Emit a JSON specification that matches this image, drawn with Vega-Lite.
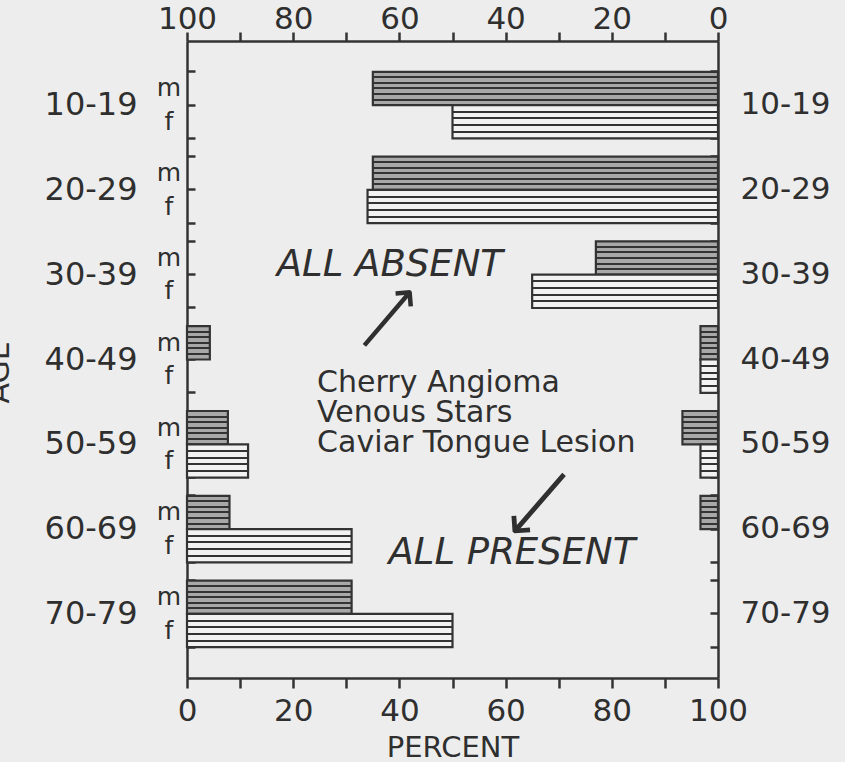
{
  "$schema": "https://vega.github.io/schema/vega-lite/v6.json",
  "width": 531,
  "height": 637,
  "autosize": "none",
  "padding": {"left": 187, "top": 41, "right": 127, "bottom": 84},
  "background": "#ededed",
  "config": {
    "view": {"stroke": null},
    "font": "DejaVu Sans",
    "axis": {
      "labelFont": "DejaVu Sans",
      "titleFont": "DejaVu Sans",
      "titleFontWeight": "normal",
      "domainColor": "#333333",
      "tickColor": "#333333",
      "labelColor": "#2f2f2f",
      "titleColor": "#2f2f2f",
      "domainWidth": 2.5,
      "tickWidth": 2.5,
      "grid": false
    }
  },
  "datasets": {
    "bars": [
      {"age": "10-19", "sex": "m", "absent": 65, "present": 0},
      {"age": "10-19", "sex": "f", "absent": 50, "present": 0},
      {"age": "20-29", "sex": "m", "absent": 65, "present": 0},
      {"age": "20-29", "sex": "f", "absent": 66, "present": 0},
      {"age": "30-39", "sex": "m", "absent": 23, "present": 0},
      {"age": "30-39", "sex": "f", "absent": 35, "present": 0},
      {"age": "40-49", "sex": "m", "absent": 3.3, "present": 4.3},
      {"age": "40-49", "sex": "f", "absent": 3.3, "present": 0},
      {"age": "50-59", "sex": "m", "absent": 6.7, "present": 7.7},
      {"age": "50-59", "sex": "f", "absent": 3.3, "present": 11.5},
      {"age": "60-69", "sex": "m", "absent": 3.3, "present": 8},
      {"age": "60-69", "sex": "f", "absent": 0, "present": 31},
      {"age": "70-79", "sex": "m", "absent": 0, "present": 31},
      {"age": "70-79", "sex": "f", "absent": 0, "present": 50}
    ],
    "notes": [
      {"note": "ALL ABSENT", "percent": 38.2, "age": "30-39", "sex": "m", "kind": "big"},
      {"note": "ALL PRESENT", "percent": 61.2, "age": "60-69", "sex": "f", "kind": "big"},
      {"note": "Cherry Angioma\nVenous Stars\nCaviar Tongue Lesion", "percent": 24.5, "age": "40-49", "sex": "m", "kind": "list"},
      {"note": "⟶", "percent": 37.9, "age": "30-39", "sex": "m", "kind": "arrow1"},
      {"note": "⟶", "percent": 66.1, "age": "60-69", "sex": "m", "kind": "arrow2"}
    ]
  },
  "resolve": {"scale": {"x": "independent"}, "axis": {"x": "independent", "y": "independent"}},
  "layer": [
    {
      "data": {"name": "bars"},
      "transform": [{"filter": "datum.sex === 'm' && datum.present > 0"}],
      "mark": {"type": "bar", "stroke": "#333333", "strokeWidth": 2.2,
        "fill": {"gradient": "linear", "x1": 0, "y1": 0, "x2": 0, "y2": 1, "stops": [
          {"offset": 0, "color": "#a8a8a8"}, {"offset": 0.137, "color": "#a8a8a8"}, {"offset": 0.137, "color": "#333333"}, {"offset": 0.197, "color": "#333333"},
          {"offset": 0.197, "color": "#a8a8a8"}, {"offset": 0.303, "color": "#a8a8a8"}, {"offset": 0.303, "color": "#333333"}, {"offset": 0.363, "color": "#333333"},
          {"offset": 0.363, "color": "#a8a8a8"}, {"offset": 0.47, "color": "#a8a8a8"}, {"offset": 0.47, "color": "#333333"}, {"offset": 0.53, "color": "#333333"},
          {"offset": 0.53, "color": "#a8a8a8"}, {"offset": 0.637, "color": "#a8a8a8"}, {"offset": 0.637, "color": "#333333"}, {"offset": 0.697, "color": "#333333"},
          {"offset": 0.697, "color": "#a8a8a8"}, {"offset": 0.803, "color": "#a8a8a8"}, {"offset": 0.803, "color": "#333333"}, {"offset": 0.863, "color": "#333333"},
          {"offset": 0.863, "color": "#a8a8a8"}, {"offset": 1, "color": "#a8a8a8"}]}},
      "encoding": {
        "y": {"field": "age", "type": "nominal",
          "scale": {"domain": ["10-19", "20-29", "30-39", "40-49", "50-59", "60-69", "70-79"], "paddingInner": 0.215, "paddingOuter": 0.363},
          "axis": {"orient": "left", "bandPosition": 0.5, "tickSize": -8, "labelPadding": 58, "labelFontSize": 32,
            "title": "AGE", "titleFontSize": 30, "titleAngle": 270, "titleX": -179, "titleY": 331, "titleAlign": "center", "titleBaseline": "alphabetic"}},
        "yOffset": {"field": "sex", "type": "nominal", "scale": {"domain": ["m", "f"]}},
        "x": {"field": "present", "type": "quantitative", "scale": {"domain": [0, 100]},
          "axis": {"orient": "bottom", "values": [0, 10, 20, 30, 40, 50, 60, 70, 80, 90, 100],
            "labelExpr": "datum.value % 20 === 0 ? datum.label : ''", "tickSize": 10, "labelPadding": 8,
            "labelFontSize": 31, "labelFlush": false, "labelOverlap": false,
            "title": "PERCENT", "titleFontSize": 29, "titlePadding": 7}}
      }
    },
    {
      "data": {"name": "bars"},
      "transform": [{"filter": "datum.sex === 'f' && datum.present > 0"}],
      "mark": {"type": "bar", "stroke": "#333333", "strokeWidth": 2.2,
        "fill": {"gradient": "linear", "x1": 0, "y1": 0, "x2": 0, "y2": 1, "stops": [
          {"offset": 0, "color": "#f2f2f2"}, {"offset": 0.17, "color": "#f2f2f2"}, {"offset": 0.17, "color": "#333333"}, {"offset": 0.23, "color": "#333333"},
          {"offset": 0.23, "color": "#f2f2f2"}, {"offset": 0.37, "color": "#f2f2f2"}, {"offset": 0.37, "color": "#333333"}, {"offset": 0.43, "color": "#333333"},
          {"offset": 0.43, "color": "#f2f2f2"}, {"offset": 0.57, "color": "#f2f2f2"}, {"offset": 0.57, "color": "#333333"}, {"offset": 0.63, "color": "#333333"},
          {"offset": 0.63, "color": "#f2f2f2"}, {"offset": 0.77, "color": "#f2f2f2"}, {"offset": 0.77, "color": "#333333"}, {"offset": 0.83, "color": "#333333"},
          {"offset": 0.83, "color": "#f2f2f2"}, {"offset": 1, "color": "#f2f2f2"}]}},
      "encoding": {
        "y": {"field": "age", "type": "nominal",
          "scale": {"domain": ["10-19", "20-29", "30-39", "40-49", "50-59", "60-69", "70-79"], "paddingInner": 0.215, "paddingOuter": 0.363},
          "axis": {"orient": "left", "bandPosition": 0, "tickSize": -8, "labels": false, "domain": false, "title": null}},
        "yOffset": {"field": "sex", "type": "nominal", "scale": {"domain": ["m", "f"]}},
        "x": {"field": "present", "type": "quantitative", "scale": {"domain": [0, 100]}, "axis": null}
      }
    },
    {
      "data": {"name": "bars"},
      "transform": [{"filter": "datum.sex === 'm' && datum.absent > 0"}],
      "mark": {"type": "bar", "stroke": "#333333", "strokeWidth": 2.2,
        "fill": {"gradient": "linear", "x1": 0, "y1": 0, "x2": 0, "y2": 1, "stops": [
          {"offset": 0, "color": "#a8a8a8"}, {"offset": 0.137, "color": "#a8a8a8"}, {"offset": 0.137, "color": "#333333"}, {"offset": 0.197, "color": "#333333"},
          {"offset": 0.197, "color": "#a8a8a8"}, {"offset": 0.303, "color": "#a8a8a8"}, {"offset": 0.303, "color": "#333333"}, {"offset": 0.363, "color": "#333333"},
          {"offset": 0.363, "color": "#a8a8a8"}, {"offset": 0.47, "color": "#a8a8a8"}, {"offset": 0.47, "color": "#333333"}, {"offset": 0.53, "color": "#333333"},
          {"offset": 0.53, "color": "#a8a8a8"}, {"offset": 0.637, "color": "#a8a8a8"}, {"offset": 0.637, "color": "#333333"}, {"offset": 0.697, "color": "#333333"},
          {"offset": 0.697, "color": "#a8a8a8"}, {"offset": 0.803, "color": "#a8a8a8"}, {"offset": 0.803, "color": "#333333"}, {"offset": 0.863, "color": "#333333"},
          {"offset": 0.863, "color": "#a8a8a8"}, {"offset": 1, "color": "#a8a8a8"}]}},
      "encoding": {
        "y": {"field": "age", "type": "nominal",
          "scale": {"domain": ["10-19", "20-29", "30-39", "40-49", "50-59", "60-69", "70-79"], "paddingInner": 0.215, "paddingOuter": 0.363},
          "axis": {"orient": "right", "bandPosition": 0.5, "tickSize": -8, "labelPadding": 30, "labelFontSize": 31, "title": null}},
        "yOffset": {"field": "sex", "type": "nominal", "scale": {"domain": ["m", "f"]}},
        "x": {"field": "absent", "type": "quantitative", "scale": {"domain": [0, 100], "reverse": true},
          "axis": {"orient": "top", "values": [0, 10, 20, 30, 40, 50, 60, 70, 80, 90, 100],
            "labelExpr": "datum.value % 20 === 0 ? datum.label : ''", "tickSize": 9, "labelPadding": -3,
            "labelFontSize": 31, "labelFlush": false, "labelOverlap": false, "title": null}}
      }
    },
    {
      "data": {"name": "bars"},
      "transform": [{"filter": "datum.sex === 'f' && datum.absent > 0"}],
      "mark": {"type": "bar", "stroke": "#333333", "strokeWidth": 2.2,
        "fill": {"gradient": "linear", "x1": 0, "y1": 0, "x2": 0, "y2": 1, "stops": [
          {"offset": 0, "color": "#f2f2f2"}, {"offset": 0.17, "color": "#f2f2f2"}, {"offset": 0.17, "color": "#333333"}, {"offset": 0.23, "color": "#333333"},
          {"offset": 0.23, "color": "#f2f2f2"}, {"offset": 0.37, "color": "#f2f2f2"}, {"offset": 0.37, "color": "#333333"}, {"offset": 0.43, "color": "#333333"},
          {"offset": 0.43, "color": "#f2f2f2"}, {"offset": 0.57, "color": "#f2f2f2"}, {"offset": 0.57, "color": "#333333"}, {"offset": 0.63, "color": "#333333"},
          {"offset": 0.63, "color": "#f2f2f2"}, {"offset": 0.77, "color": "#f2f2f2"}, {"offset": 0.77, "color": "#333333"}, {"offset": 0.83, "color": "#333333"},
          {"offset": 0.83, "color": "#f2f2f2"}, {"offset": 1, "color": "#f2f2f2"}]}},
      "encoding": {
        "y": {"field": "age", "type": "nominal",
          "scale": {"domain": ["10-19", "20-29", "30-39", "40-49", "50-59", "60-69", "70-79"], "paddingInner": 0.215, "paddingOuter": 0.363},
          "axis": {"orient": "right", "bandPosition": 0, "tickSize": -8, "labels": false, "domain": false, "title": null}},
        "yOffset": {"field": "sex", "type": "nominal", "scale": {"domain": ["m", "f"]}},
        "x": {"field": "absent", "type": "quantitative", "scale": {"domain": [0, 100], "reverse": true}, "axis": null}
      }
    },
    {
      "data": {"name": "bars"},
      "mark": {"type": "text", "fontSize": 25, "color": "#2f2f2f", "align": "center", "baseline": "middle", "dx": -18},
      "encoding": {
        "text": {"field": "sex"},
        "y": {"field": "age", "type": "nominal",
          "scale": {"domain": ["10-19", "20-29", "30-39", "40-49", "50-59", "60-69", "70-79"], "paddingInner": 0.215, "paddingOuter": 0.363},
          "axis": {"orient": "left", "bandPosition": 1, "tickSize": -8, "labels": false, "domain": false, "title": null}},
        "yOffset": {"field": "sex", "type": "nominal", "scale": {"domain": ["m", "f"]}},
        "x": {"datum": 0, "type": "quantitative", "scale": {"domain": [0, 100]}, "axis": null}
      }
    },
    {
      "data": {"name": "notes"},
      "transform": [{"filter": "datum.kind === 'big'"}],
      "mark": {"type": "text", "fontSize": 37, "fontStyle": "italic", "color": "#2f2f2f", "align": "center", "baseline": "middle", "dy": 7},
      "encoding": {
        "text": {"field": "note"},
        "y": {"field": "age", "type": "nominal",
          "scale": {"domain": ["10-19", "20-29", "30-39", "40-49", "50-59", "60-69", "70-79"], "paddingInner": 0.215, "paddingOuter": 0.363},
          "axis": {"orient": "right", "bandPosition": 1, "tickSize": -8, "labels": false, "domain": false, "title": null}},
        "yOffset": {"field": "sex", "type": "nominal", "scale": {"domain": ["m", "f"]}},
        "x": {"field": "percent", "type": "quantitative", "scale": {"domain": [0, 100]}, "axis": null}
      }
    },
    {
      "data": {"name": "notes"},
      "transform": [{"filter": "datum.kind === 'list'"}],
      "mark": {"type": "text", "fontSize": 30, "color": "#2f2f2f", "align": "left", "baseline": "middle", "lineBreak": "\n", "lineHeight": 30, "dy": 23},
      "encoding": {
        "text": {"field": "note"},
        "y": {"field": "age", "type": "nominal",
          "scale": {"domain": ["10-19", "20-29", "30-39", "40-49", "50-59", "60-69", "70-79"], "paddingInner": 0.215, "paddingOuter": 0.363},
          "axis": null},
        "x": {"field": "percent", "type": "quantitative", "scale": {"domain": [0, 100]}, "axis": null}
      }
    },
    {
      "data": {"name": "notes"},
      "transform": [{"filter": "datum.kind === 'arrow1'"}],
      "mark": {"type": "text", "fontSize": 54, "color": "#2f2f2f", "align": "center", "baseline": "middle", "angle": -49.5, "dx": -33.7, "dy": 28.8},
      "encoding": {
        "text": {"field": "note"},
        "y": {"field": "age", "type": "nominal",
          "scale": {"domain": ["10-19", "20-29", "30-39", "40-49", "50-59", "60-69", "70-79"], "paddingInner": 0.215, "paddingOuter": 0.363},
          "axis": null},
        "x": {"field": "percent", "type": "quantitative", "scale": {"domain": [0, 100]}, "axis": null}
      }
    },
    {
      "data": {"name": "notes"},
      "transform": [{"filter": "datum.kind === 'arrow2'"}],
      "mark": {"type": "text", "fontSize": 58, "color": "#2f2f2f", "align": "center", "baseline": "middle", "angle": 131, "dx": -20.1, "dy": 17.5},
      "encoding": {
        "text": {"field": "note"},
        "y": {"field": "age", "type": "nominal",
          "scale": {"domain": ["10-19", "20-29", "30-39", "40-49", "50-59", "60-69", "70-79"], "paddingInner": 0.215, "paddingOuter": 0.363},
          "axis": null},
        "x": {"field": "percent", "type": "quantitative", "scale": {"domain": [0, 100]}, "axis": null}
      }
    }
  ]
}
